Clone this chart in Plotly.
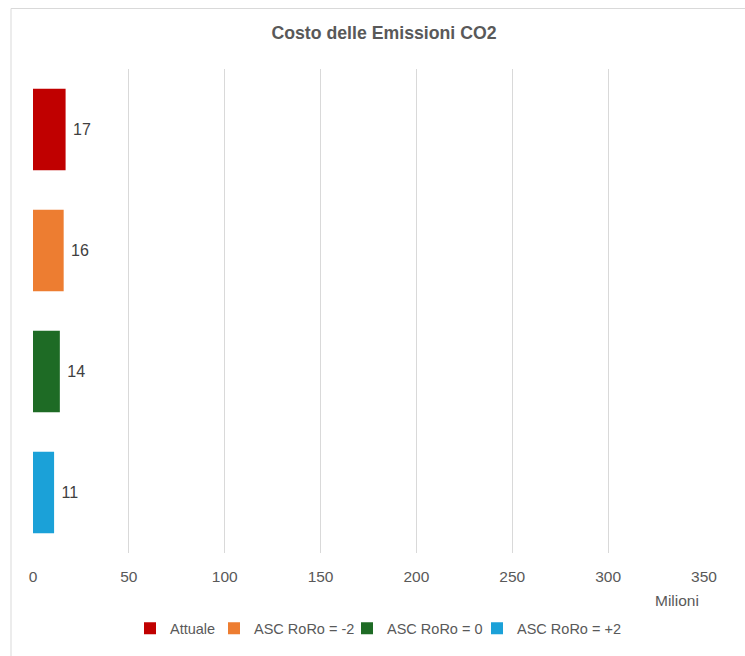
import plotly.graph_objects as go

# Scenario data (costs in millions)
scenarios = ["Attuale", "ASC RoRo = -2", "ASC RoRo = 0", "ASC RoRo = +2"]
costs = [17, 16, 14, 11]
colors = ["#C00000", "#ED7D31", "#1E6B25", "#1BA1D8"]
x_ticks = [0, 50, 100, 150, 200, 250, 300, 350]

W, H = 745, 656
ML, MR, MT, MB = 33, 41, 69, 99
PW, PH = W - ML - MR, H - MT - MB


def px_x(p):
    return (p - ML) / PW


def px_y(p):
    return (H - MB - p) / PH


# each series gets its own legend box along the bottom row
legend_ids = ["legend", "legend2", "legend3", "legend4"]
legend_left_px = [130, 214, 347, 477]

fig = go.Figure()
for name, val, col, lid in zip(scenarios, costs, colors, legend_ids):
    fig.add_trace(go.Bar(
        y=[name], x=[val], name=name, orientation="h",
        marker=dict(color=col, line=dict(width=0)),
        width=0.672,
        text=[val], texttemplate=" %{x}", textposition="outside",
        textfont=dict(family="Liberation Sans, Arial", size=16, color="#404040"),
        cliponaxis=False,
        legend=lid,
    ))

legend_style = dict(
    orientation="h", xanchor="left", yanchor="middle",
    y=px_y(633), bgcolor="rgba(0,0,0,0)",
    font=dict(size=14.5, color="#595959"),
)
legends = {}
for lid, lx in zip(legend_ids, legend_left_px):
    legends[lid] = dict(legend_style, x=px_x(lx))

fig.update_layout(
    width=W, height=H,
    margin=dict(l=ML, r=MR, t=MT, b=MB),
    paper_bgcolor="white", plot_bgcolor="white",
    barmode="overlay",
    showlegend=True,
    font=dict(family="Liberation Sans, Arial", color="#595959"),
    title=dict(
        text="<b>Costo delle Emissioni CO2</b>",
        x=px_x(384), xref="paper", xanchor="center",
        y=1 - 33 / H, yref="container", yanchor="middle",
        font=dict(size=17.7, color="#595959"),
    ),
    xaxis=dict(
        range=[0, 350], tickvals=x_ticks,
        showgrid=True, gridcolor="#D9D9D9", gridwidth=1,
        zeroline=False, showline=False,
        ticks="outside", ticklen=9, tickcolor="rgba(0,0,0,0)",
        tickfont=dict(size=15.5, color="#595959"),
    ),
    yaxis=dict(
        categoryorder="array", categoryarray=scenarios,
        autorange="reversed", showticklabels=False,
        showgrid=False, zeroline=False, showline=False,
    ),
    annotations=[dict(
        text="Milioni", x=px_x(677), y=px_y(605),
        xref="paper", yref="paper", xanchor="center", yanchor="middle",
        showarrow=False,
        font=dict(size=15.5, color="#595959"),
    )],
    shapes=[dict(
        type="rect", xref="paper", yref="paper",
        x0=px_x(11), y0=px_y(700), x1=px_x(800), y1=px_y(8),
        line=dict(color="#D9D9D9", width=1), layer="below",
    )],
    **legends,
)

fig.write_html("out.html")
